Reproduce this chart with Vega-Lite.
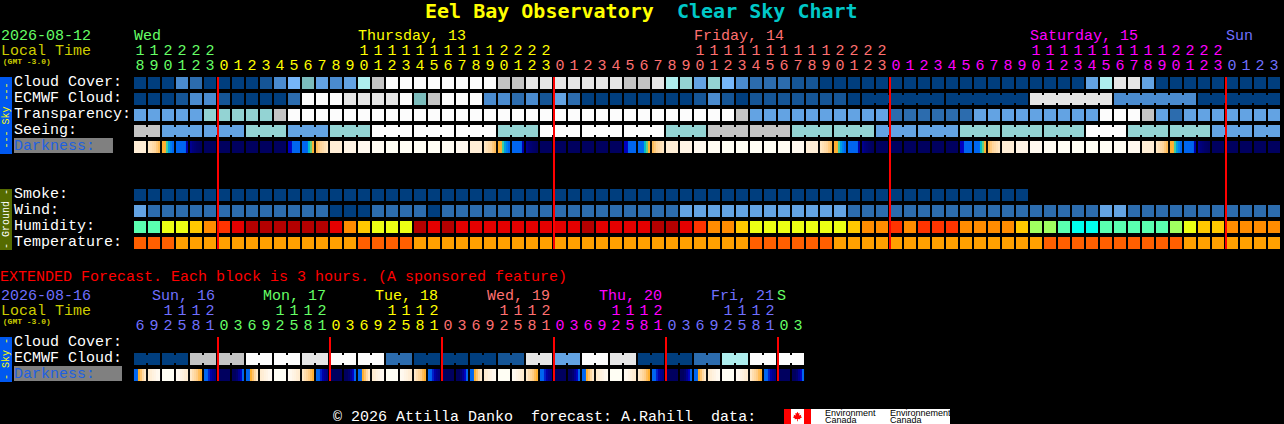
{"$schema":"https://vega.github.io/schema/vega-lite/v6.json","width":1284,"height":424,"padding":0,"autosize":{"type":"none"},"background":"#000000","config":{"view":{"stroke":null},"text":{"font":"Liberation Mono","fontSize":15,"align":"left","baseline":"middle"}},
"encoding":{"x":{"field":"c","type":"quantitative","scale":{"domain":[-10,81.7142857],"nice":false,"zero":false},"axis":null},"y":{"field":"r","type":"quantitative","scale":{"domain":[-5.1875,21.3125],"reverse":true,"nice":false,"zero":false},"axis":null},"color":{"field":"k","type":"nominal","legend":null,"scale":{"domain":["a","b","c","d","e","f","g","h","i","j","k","l","m","n","o","p","q","r","s","t","u","v","w","R","sky","gnd","grey","W","bk","12","13","14","15","16","17","18","19","20","21","22","L","T","C","D"],"range":["#003e7e","#155596","#2c6cae","#4a8bcf","#63a3e3","#76b6f9","#7cbcbc","#93d3d3","#aeeeee","#c4c4c4","#e6e6e6","#fcfcfc","#b40000","#e40000","#ff3400","#ff8c00","#ffc800","#ecff14","#a0ff60","#5affb0","#00ffee","#ff5f00","#ffa000","#ff0000","#0058f0","#556b00","#808080","#ffffff","#000000","#66ff66","#ffff00","#ff7070","#ff00ff","#7070ff","#66ff66","#ffff00","#ff7070","#ff00ff","#7070ff","#66ff66","#cccc00","#ffff00","#00c8c8","#2060e0"]}}},
"datasets":{"cells":[
{"r":0,"c":0,"k":"a"},{"r":0,"c":1,"k":"a"},{"r":0,"c":2,"k":"a"},{"r":0,"c":3,"k":"d"},{"r":0,"c":4,"k":"c"},{"r":0,"c":5,"k":"a"},{"r":0,"c":6,"k":"a"},{"r":0,"c":7,"k":"a"},{"r":0,"c":8,"k":"a"},{"r":0,"c":9,"k":"b"},{"r":0,"c":10,"k":"d"},{"r":0,"c":11,"k":"f"},{"r":0,"c":12,"k":"g"},{"r":0,"c":13,"k":"e"},{"r":0,"c":14,"k":"d"},{"r":0,"c":15,"k":"e"},{"r":0,"c":16,"k":"i"},{"r":0,"c":17,"k":"j"},{"r":0,"c":18,"k":"l"},{"r":0,"c":19,"k":"l"},{"r":0,"c":20,"k":"l"},{"r":0,"c":21,"k":"l"},{"r":0,"c":22,"k":"l"},{"r":0,"c":23,"k":"l"},{"r":0,"c":24,"k":"l"},{"r":0,"c":25,"k":"l"},{"r":0,"c":26,"k":"j"},{"r":0,"c":27,"k":"j"},{"r":0,"c":28,"k":"k"},{"r":0,"c":29,"k":"k"},{"r":0,"c":30,"k":"k"},{"r":0,"c":31,"k":"k"},{"r":0,"c":32,"k":"k"},{"r":0,"c":33,"k":"k"},{"r":0,"c":34,"k":"k"},{"r":0,"c":35,"k":"j"},{"r":0,"c":36,"k":"j"},{"r":0,"c":37,"k":"k"},{"r":0,"c":38,"k":"i"},{"r":0,"c":39,"k":"h"},{"r":0,"c":40,"k":"e"},{"r":0,"c":41,"k":"h"},{"r":0,"c":42,"k":"f"},{"r":0,"c":43,"k":"d"},{"r":0,"c":44,"k":"c"},{"r":0,"c":45,"k":"c"},{"r":0,"c":46,"k":"c"},{"r":0,"c":47,"k":"b"},{"r":0,"c":48,"k":"b"},{"r":0,"c":49,"k":"a"},{"r":0,"c":50,"k":"a"},{"r":0,"c":51,"k":"a"},{"r":0,"c":52,"k":"a"},{"r":0,"c":53,"k":"a"},{"r":0,"c":54,"k":"a"},{"r":0,"c":55,"k":"a"},{"r":0,"c":56,"k":"a"},{"r":0,"c":57,"k":"a"},{"r":0,"c":58,"k":"a"},{"r":0,"c":59,"k":"a"},{"r":0,"c":60,"k":"a"},{"r":0,"c":61,"k":"a"},{"r":0,"c":62,"k":"a"},{"r":0,"c":63,"k":"a"},{"r":0,"c":64,"k":"a"},{"r":0,"c":65,"k":"a"},{"r":0,"c":66,"k":"a"},{"r":0,"c":67,"k":"a"},{"r":0,"c":68,"k":"e"},{"r":0,"c":69,"k":"i"},{"r":0,"c":70,"k":"k"},{"r":0,"c":71,"k":"k"},{"r":0,"c":72,"k":"e"},{"r":0,"c":73,"k":"a"},{"r":0,"c":74,"k":"a"},{"r":0,"c":75,"k":"a"},{"r":0,"c":76,"k":"a"},{"r":0,"c":77,"k":"a"},{"r":0,"c":78,"k":"a"},{"r":0,"c":79,"k":"a"},{"r":0,"c":80,"k":"a"},{"r":0,"c":81,"k":"a"},
{"r":1,"c":0,"k":"a"},{"r":1,"c":1,"k":"a"},{"r":1,"c":2,"k":"a"},{"r":1,"c":3,"k":"b"},{"r":1,"c":4,"k":"d"},{"r":1,"c":5,"k":"d"},{"r":1,"c":6,"k":"b"},{"r":1,"c":7,"k":"a"},{"r":1,"c":8,"k":"a"},{"r":1,"c":9,"k":"a"},{"r":1,"c":10,"k":"a"},{"r":1,"c":11,"k":"c"},{"r":1,"c":12,"k":"l"},{"r":1,"c":13,"k":"l"},{"r":1,"c":14,"k":"l"},{"r":1,"c":15,"k":"k"},{"r":1,"c":16,"k":"k"},{"r":1,"c":17,"k":"k"},{"r":1,"c":18,"k":"k"},{"r":1,"c":19,"k":"l"},{"r":1,"c":20,"k":"g"},{"r":1,"c":21,"k":"j"},{"r":1,"c":22,"k":"l"},{"r":1,"c":23,"k":"l"},{"r":1,"c":24,"k":"l"},{"r":1,"c":25,"k":"d"},{"r":1,"c":26,"k":"d"},{"r":1,"c":27,"k":"c"},{"r":1,"c":28,"k":"d"},{"r":1,"c":29,"k":"b"},{"r":1,"c":30,"k":"e"},{"r":1,"c":31,"k":"c"},{"r":1,"c":32,"k":"a"},{"r":1,"c":33,"k":"a"},{"r":1,"c":34,"k":"a"},{"r":1,"c":35,"k":"a"},{"r":1,"c":36,"k":"a"},{"r":1,"c":37,"k":"a"},{"r":1,"c":38,"k":"a"},{"r":1,"c":39,"k":"a"},{"r":1,"c":40,"k":"b"},{"r":1,"c":41,"k":"d"},{"r":1,"c":42,"k":"b"},{"r":1,"c":43,"k":"a"},{"r":1,"c":44,"k":"b"},{"r":1,"c":45,"k":"b"},{"r":1,"c":46,"k":"b"},{"r":1,"c":47,"k":"b"},{"r":1,"c":48,"k":"b"},{"r":1,"c":49,"k":"b"},{"r":1,"c":50,"k":"b"},{"r":1,"c":51,"k":"a"},{"r":1,"c":52,"k":"a","j":1},{"r":1,"c":53,"k":"a","j":1},{"r":1,"c":54,"k":"a","j":1},{"r":1,"c":55,"k":"a","j":1},{"r":1,"c":56,"k":"a","j":1},{"r":1,"c":57,"k":"a"},{"r":1,"c":58,"k":"a","j":1},{"r":1,"c":59,"k":"a","j":1},{"r":1,"c":60,"k":"a","j":1},{"r":1,"c":61,"k":"a","j":1},{"r":1,"c":62,"k":"a","j":1},{"r":1,"c":63,"k":"a"},{"r":1,"c":64,"k":"k","j":1},{"r":1,"c":65,"k":"k","j":1},{"r":1,"c":66,"k":"k","j":1},{"r":1,"c":67,"k":"k","j":1},{"r":1,"c":68,"k":"k","j":1},{"r":1,"c":69,"k":"k"},{"r":1,"c":70,"k":"d","j":1},{"r":1,"c":71,"k":"d","j":1},{"r":1,"c":72,"k":"d","j":1},{"r":1,"c":73,"k":"d","j":1},{"r":1,"c":74,"k":"d","j":1},{"r":1,"c":75,"k":"d"},{"r":1,"c":76,"k":"a","j":1},{"r":1,"c":77,"k":"a","j":1},{"r":1,"c":78,"k":"a","j":1},{"r":1,"c":79,"k":"a","j":1},{"r":1,"c":80,"k":"a","j":1},{"r":1,"c":81,"k":"a"},
{"r":2,"c":0,"k":"e"},{"r":2,"c":1,"k":"e"},{"r":2,"c":2,"k":"e"},{"r":2,"c":3,"k":"e"},{"r":2,"c":4,"k":"e"},{"r":2,"c":5,"k":"h"},{"r":2,"c":6,"k":"h"},{"r":2,"c":7,"k":"h"},{"r":2,"c":8,"k":"h"},{"r":2,"c":9,"k":"h"},{"r":2,"c":10,"k":"j"},{"r":2,"c":11,"k":"l"},{"r":2,"c":12,"k":"l"},{"r":2,"c":13,"k":"l"},{"r":2,"c":14,"k":"l"},{"r":2,"c":15,"k":"l"},{"r":2,"c":16,"k":"l"},{"r":2,"c":17,"k":"l"},{"r":2,"c":18,"k":"l"},{"r":2,"c":19,"k":"l"},{"r":2,"c":20,"k":"l"},{"r":2,"c":21,"k":"l"},{"r":2,"c":22,"k":"l"},{"r":2,"c":23,"k":"l"},{"r":2,"c":24,"k":"l"},{"r":2,"c":25,"k":"l"},{"r":2,"c":26,"k":"l"},{"r":2,"c":27,"k":"l"},{"r":2,"c":28,"k":"l"},{"r":2,"c":29,"k":"l"},{"r":2,"c":30,"k":"l"},{"r":2,"c":31,"k":"l"},{"r":2,"c":32,"k":"l"},{"r":2,"c":33,"k":"l"},{"r":2,"c":34,"k":"l"},{"r":2,"c":35,"k":"l"},{"r":2,"c":36,"k":"l"},{"r":2,"c":37,"k":"l"},{"r":2,"c":38,"k":"l"},{"r":2,"c":39,"k":"l"},{"r":2,"c":40,"k":"l"},{"r":2,"c":41,"k":"l"},{"r":2,"c":42,"k":"l"},{"r":2,"c":43,"k":"j"},{"r":2,"c":44,"k":"e"},{"r":2,"c":45,"k":"e"},{"r":2,"c":46,"k":"e"},{"r":2,"c":47,"k":"e"},{"r":2,"c":48,"k":"e"},{"r":2,"c":49,"k":"e"},{"r":2,"c":50,"k":"e"},{"r":2,"c":51,"k":"e"},{"r":2,"c":52,"k":"e"},{"r":2,"c":53,"k":"e"},{"r":2,"c":54,"k":"c"},{"r":2,"c":55,"k":"c"},{"r":2,"c":56,"k":"c"},{"r":2,"c":57,"k":"c"},{"r":2,"c":58,"k":"c"},{"r":2,"c":59,"k":"c"},{"r":2,"c":60,"k":"e"},{"r":2,"c":61,"k":"e"},{"r":2,"c":62,"k":"e"},{"r":2,"c":63,"k":"e"},{"r":2,"c":64,"k":"e"},{"r":2,"c":65,"k":"e"},{"r":2,"c":66,"k":"e"},{"r":2,"c":67,"k":"e"},{"r":2,"c":68,"k":"e"},{"r":2,"c":69,"k":"l"},{"r":2,"c":70,"k":"l"},{"r":2,"c":71,"k":"l"},{"r":2,"c":72,"k":"j"},{"r":2,"c":73,"k":"e"},{"r":2,"c":74,"k":"c"},{"r":2,"c":75,"k":"e"},{"r":2,"c":76,"k":"e"},{"r":2,"c":77,"k":"e"},{"r":2,"c":78,"k":"e"},{"r":2,"c":79,"k":"e"},{"r":2,"c":80,"k":"e"},{"r":2,"c":81,"k":"e"},
{"r":3,"c":0,"k":"j","j":1},{"r":3,"c":1,"k":"j"},{"r":3,"c":2,"k":"e","j":1},{"r":3,"c":3,"k":"e","j":1},{"r":3,"c":4,"k":"e"},{"r":3,"c":5,"k":"e","j":1},{"r":3,"c":6,"k":"e","j":1},{"r":3,"c":7,"k":"e"},{"r":3,"c":8,"k":"h","j":1},{"r":3,"c":9,"k":"h","j":1},{"r":3,"c":10,"k":"h"},{"r":3,"c":11,"k":"e","j":1},{"r":3,"c":12,"k":"e","j":1},{"r":3,"c":13,"k":"e"},{"r":3,"c":14,"k":"h","j":1},{"r":3,"c":15,"k":"h","j":1},{"r":3,"c":16,"k":"h"},{"r":3,"c":17,"k":"l","j":1},{"r":3,"c":18,"k":"l","j":1},{"r":3,"c":19,"k":"l"},{"r":3,"c":20,"k":"l","j":1},{"r":3,"c":21,"k":"l","j":1},{"r":3,"c":22,"k":"l"},{"r":3,"c":23,"k":"l","j":1},{"r":3,"c":24,"k":"l","j":1},{"r":3,"c":25,"k":"l"},{"r":3,"c":26,"k":"h","j":1},{"r":3,"c":27,"k":"h","j":1},{"r":3,"c":28,"k":"h"},{"r":3,"c":29,"k":"l","j":1},{"r":3,"c":30,"k":"l","j":1},{"r":3,"c":31,"k":"l"},{"r":3,"c":32,"k":"l","j":1},{"r":3,"c":33,"k":"l","j":1},{"r":3,"c":34,"k":"l"},{"r":3,"c":35,"k":"l","j":1},{"r":3,"c":36,"k":"l","j":1},{"r":3,"c":37,"k":"l"},{"r":3,"c":38,"k":"h","j":1},{"r":3,"c":39,"k":"h","j":1},{"r":3,"c":40,"k":"h"},{"r":3,"c":41,"k":"j","j":1},{"r":3,"c":42,"k":"j","j":1},{"r":3,"c":43,"k":"j"},{"r":3,"c":44,"k":"j","j":1},{"r":3,"c":45,"k":"j","j":1},{"r":3,"c":46,"k":"j"},{"r":3,"c":47,"k":"h","j":1},{"r":3,"c":48,"k":"h","j":1},{"r":3,"c":49,"k":"h"},{"r":3,"c":50,"k":"h","j":1},{"r":3,"c":51,"k":"h","j":1},{"r":3,"c":52,"k":"h"},{"r":3,"c":53,"k":"e","j":1},{"r":3,"c":54,"k":"e","j":1},{"r":3,"c":55,"k":"e"},{"r":3,"c":56,"k":"e","j":1},{"r":3,"c":57,"k":"e","j":1},{"r":3,"c":58,"k":"e"},{"r":3,"c":59,"k":"h","j":1},{"r":3,"c":60,"k":"h","j":1},{"r":3,"c":61,"k":"h"},{"r":3,"c":62,"k":"h","j":1},{"r":3,"c":63,"k":"h","j":1},{"r":3,"c":64,"k":"h"},{"r":3,"c":65,"k":"h","j":1},{"r":3,"c":66,"k":"h","j":1},{"r":3,"c":67,"k":"h"},{"r":3,"c":68,"k":"l","j":1},{"r":3,"c":69,"k":"l","j":1},{"r":3,"c":70,"k":"l"},{"r":3,"c":71,"k":"h","j":1},{"r":3,"c":72,"k":"h","j":1},{"r":3,"c":73,"k":"h"},{"r":3,"c":74,"k":"h","j":1},{"r":3,"c":75,"k":"h","j":1},{"r":3,"c":76,"k":"h"},{"r":3,"c":77,"k":"e","j":1},{"r":3,"c":78,"k":"e","j":1},{"r":3,"c":79,"k":"e"},{"r":3,"c":80,"k":"e","j":1},{"r":3,"c":81,"k":"e"},
{"r":7,"c":0,"k":"a"},{"r":7,"c":1,"k":"a"},{"r":7,"c":2,"k":"a"},{"r":7,"c":3,"k":"a"},{"r":7,"c":4,"k":"a"},{"r":7,"c":5,"k":"a"},{"r":7,"c":6,"k":"a"},{"r":7,"c":7,"k":"a"},{"r":7,"c":8,"k":"a"},{"r":7,"c":9,"k":"a"},{"r":7,"c":10,"k":"a"},{"r":7,"c":11,"k":"a"},{"r":7,"c":12,"k":"a"},{"r":7,"c":13,"k":"a"},{"r":7,"c":14,"k":"a"},{"r":7,"c":15,"k":"a"},{"r":7,"c":16,"k":"a"},{"r":7,"c":17,"k":"a"},{"r":7,"c":18,"k":"a"},{"r":7,"c":19,"k":"a"},{"r":7,"c":20,"k":"a"},{"r":7,"c":21,"k":"a"},{"r":7,"c":22,"k":"a"},{"r":7,"c":23,"k":"a"},{"r":7,"c":24,"k":"a"},{"r":7,"c":25,"k":"a"},{"r":7,"c":26,"k":"a"},{"r":7,"c":27,"k":"a"},{"r":7,"c":28,"k":"a"},{"r":7,"c":29,"k":"a"},{"r":7,"c":30,"k":"a"},{"r":7,"c":31,"k":"a"},{"r":7,"c":32,"k":"a"},{"r":7,"c":33,"k":"a"},{"r":7,"c":34,"k":"a"},{"r":7,"c":35,"k":"a"},{"r":7,"c":36,"k":"a"},{"r":7,"c":37,"k":"a"},{"r":7,"c":38,"k":"a"},{"r":7,"c":39,"k":"a"},{"r":7,"c":40,"k":"a"},{"r":7,"c":41,"k":"a"},{"r":7,"c":42,"k":"a"},{"r":7,"c":43,"k":"a"},{"r":7,"c":44,"k":"a"},{"r":7,"c":45,"k":"a"},{"r":7,"c":46,"k":"a"},{"r":7,"c":47,"k":"a"},{"r":7,"c":48,"k":"a"},{"r":7,"c":49,"k":"a"},{"r":7,"c":50,"k":"a"},{"r":7,"c":51,"k":"a"},{"r":7,"c":52,"k":"a"},{"r":7,"c":53,"k":"a"},{"r":7,"c":54,"k":"a"},{"r":7,"c":55,"k":"a"},{"r":7,"c":56,"k":"a"},{"r":7,"c":57,"k":"a"},{"r":7,"c":58,"k":"a"},{"r":7,"c":59,"k":"a"},{"r":7,"c":60,"k":"a"},{"r":7,"c":61,"k":"a"},{"r":7,"c":62,"k":"a"},{"r":7,"c":63,"k":"a"},
{"r":8,"c":0,"k":"e"},{"r":8,"c":1,"k":"c"},{"r":8,"c":2,"k":"c"},{"r":8,"c":3,"k":"c"},{"r":8,"c":4,"k":"c"},{"r":8,"c":5,"k":"c"},{"r":8,"c":6,"k":"c"},{"r":8,"c":7,"k":"c"},{"r":8,"c":8,"k":"c"},{"r":8,"c":9,"k":"c"},{"r":8,"c":10,"k":"c"},{"r":8,"c":11,"k":"c"},{"r":8,"c":12,"k":"c"},{"r":8,"c":13,"k":"c"},{"r":8,"c":14,"k":"a"},{"r":8,"c":15,"k":"a"},{"r":8,"c":16,"k":"a"},{"r":8,"c":17,"k":"c"},{"r":8,"c":18,"k":"c"},{"r":8,"c":19,"k":"c"},{"r":8,"c":20,"k":"c"},{"r":8,"c":21,"k":"a"},{"r":8,"c":22,"k":"c"},{"r":8,"c":23,"k":"c"},{"r":8,"c":24,"k":"c"},{"r":8,"c":25,"k":"c"},{"r":8,"c":26,"k":"c"},{"r":8,"c":27,"k":"c"},{"r":8,"c":28,"k":"c"},{"r":8,"c":29,"k":"c"},{"r":8,"c":30,"k":"c"},{"r":8,"c":31,"k":"c"},{"r":8,"c":32,"k":"c"},{"r":8,"c":33,"k":"c"},{"r":8,"c":34,"k":"c"},{"r":8,"c":35,"k":"c"},{"r":8,"c":36,"k":"c"},{"r":8,"c":37,"k":"c"},{"r":8,"c":38,"k":"c"},{"r":8,"c":39,"k":"e"},{"r":8,"c":40,"k":"e"},{"r":8,"c":41,"k":"e"},{"r":8,"c":42,"k":"e"},{"r":8,"c":43,"k":"e"},{"r":8,"c":44,"k":"e"},{"r":8,"c":45,"k":"e"},{"r":8,"c":46,"k":"e"},{"r":8,"c":47,"k":"e"},{"r":8,"c":48,"k":"e"},{"r":8,"c":49,"k":"e"},{"r":8,"c":50,"k":"e"},{"r":8,"c":51,"k":"c"},{"r":8,"c":52,"k":"c"},{"r":8,"c":53,"k":"c"},{"r":8,"c":54,"k":"c"},{"r":8,"c":55,"k":"c"},{"r":8,"c":56,"k":"c"},{"r":8,"c":57,"k":"c"},{"r":8,"c":58,"k":"c"},{"r":8,"c":59,"k":"c"},{"r":8,"c":60,"k":"c"},{"r":8,"c":61,"k":"c"},{"r":8,"c":62,"k":"c"},{"r":8,"c":63,"k":"c"},{"r":8,"c":64,"k":"c"},{"r":8,"c":65,"k":"c"},{"r":8,"c":66,"k":"c"},{"r":8,"c":67,"k":"c"},{"r":8,"c":68,"k":"c"},{"r":8,"c":69,"k":"e"},{"r":8,"c":70,"k":"e"},{"r":8,"c":71,"k":"c"},{"r":8,"c":72,"k":"c"},{"r":8,"c":73,"k":"c"},{"r":8,"c":74,"k":"c"},{"r":8,"c":75,"k":"c"},{"r":8,"c":76,"k":"c"},{"r":8,"c":77,"k":"c"},{"r":8,"c":78,"k":"c"},{"r":8,"c":79,"k":"c"},{"r":8,"c":80,"k":"c"},{"r":8,"c":81,"k":"c"},
{"r":9,"c":0,"k":"t"},{"r":9,"c":1,"k":"t"},{"r":9,"c":2,"k":"r"},{"r":9,"c":3,"k":"r"},{"r":9,"c":4,"k":"q"},{"r":9,"c":5,"k":"p"},{"r":9,"c":6,"k":"o"},{"r":9,"c":7,"k":"n"},{"r":9,"c":8,"k":"m"},{"r":9,"c":9,"k":"m"},{"r":9,"c":10,"k":"m"},{"r":9,"c":11,"k":"m"},{"r":9,"c":12,"k":"m"},{"r":9,"c":13,"k":"m"},{"r":9,"c":14,"k":"n"},{"r":9,"c":15,"k":"p"},{"r":9,"c":16,"k":"q"},{"r":9,"c":17,"k":"r"},{"r":9,"c":18,"k":"r"},{"r":9,"c":19,"k":"r"},{"r":9,"c":20,"k":"m"},{"r":9,"c":21,"k":"n"},{"r":9,"c":22,"k":"m"},{"r":9,"c":23,"k":"n"},{"r":9,"c":24,"k":"n"},{"r":9,"c":25,"k":"n"},{"r":9,"c":26,"k":"n"},{"r":9,"c":27,"k":"n"},{"r":9,"c":28,"k":"n"},{"r":9,"c":29,"k":"n"},{"r":9,"c":30,"k":"n"},{"r":9,"c":31,"k":"n"},{"r":9,"c":32,"k":"m"},{"r":9,"c":33,"k":"n"},{"r":9,"c":34,"k":"n"},{"r":9,"c":35,"k":"n"},{"r":9,"c":36,"k":"n"},{"r":9,"c":37,"k":"m"},{"r":9,"c":38,"k":"m"},{"r":9,"c":39,"k":"n"},{"r":9,"c":40,"k":"o"},{"r":9,"c":41,"k":"p"},{"r":9,"c":42,"k":"p"},{"r":9,"c":43,"k":"q"},{"r":9,"c":44,"k":"r"},{"r":9,"c":45,"k":"r"},{"r":9,"c":46,"k":"r"},{"r":9,"c":47,"k":"r"},{"r":9,"c":48,"k":"r"},{"r":9,"c":49,"k":"r"},{"r":9,"c":50,"k":"r"},{"r":9,"c":51,"k":"q"},{"r":9,"c":52,"k":"p"},{"r":9,"c":53,"k":"p"},{"r":9,"c":54,"k":"o"},{"r":9,"c":55,"k":"p"},{"r":9,"c":56,"k":"o"},{"r":9,"c":57,"k":"o"},{"r":9,"c":58,"k":"o"},{"r":9,"c":59,"k":"p"},{"r":9,"c":60,"k":"p"},{"r":9,"c":61,"k":"p"},{"r":9,"c":62,"k":"p"},{"r":9,"c":63,"k":"q"},{"r":9,"c":64,"k":"s"},{"r":9,"c":65,"k":"s"},{"r":9,"c":66,"k":"t"},{"r":9,"c":67,"k":"u"},{"r":9,"c":68,"k":"u"},{"r":9,"c":69,"k":"t"},{"r":9,"c":70,"k":"t"},{"r":9,"c":71,"k":"t"},{"r":9,"c":72,"k":"t"},{"r":9,"c":73,"k":"t"},{"r":9,"c":74,"k":"s"},{"r":9,"c":75,"k":"r"},{"r":9,"c":76,"k":"q"},{"r":9,"c":77,"k":"q"},{"r":9,"c":78,"k":"p"},{"r":9,"c":79,"k":"p"},{"r":9,"c":80,"k":"p"},{"r":9,"c":81,"k":"p"},
{"r":10,"c":0,"k":"v"},{"r":10,"c":1,"k":"v"},{"r":10,"c":2,"k":"v"},{"r":10,"c":3,"k":"w"},{"r":10,"c":4,"k":"w"},{"r":10,"c":5,"k":"w"},{"r":10,"c":6,"k":"w"},{"r":10,"c":7,"k":"w"},{"r":10,"c":8,"k":"w"},{"r":10,"c":9,"k":"w"},{"r":10,"c":10,"k":"w"},{"r":10,"c":11,"k":"w"},{"r":10,"c":12,"k":"w"},{"r":10,"c":13,"k":"w"},{"r":10,"c":14,"k":"w"},{"r":10,"c":15,"k":"w"},{"r":10,"c":16,"k":"v"},{"r":10,"c":17,"k":"v"},{"r":10,"c":18,"k":"v"},{"r":10,"c":19,"k":"v"},{"r":10,"c":20,"k":"w"},{"r":10,"c":21,"k":"w"},{"r":10,"c":22,"k":"w"},{"r":10,"c":23,"k":"w"},{"r":10,"c":24,"k":"w"},{"r":10,"c":25,"k":"w"},{"r":10,"c":26,"k":"w"},{"r":10,"c":27,"k":"w"},{"r":10,"c":28,"k":"w"},{"r":10,"c":29,"k":"w"},{"r":10,"c":30,"k":"w"},{"r":10,"c":31,"k":"w"},{"r":10,"c":32,"k":"w"},{"r":10,"c":33,"k":"w"},{"r":10,"c":34,"k":"w"},{"r":10,"c":35,"k":"w"},{"r":10,"c":36,"k":"w"},{"r":10,"c":37,"k":"w"},{"r":10,"c":38,"k":"w"},{"r":10,"c":39,"k":"w"},{"r":10,"c":40,"k":"w"},{"r":10,"c":41,"k":"w"},{"r":10,"c":42,"k":"w"},{"r":10,"c":43,"k":"w"},{"r":10,"c":44,"k":"v"},{"r":10,"c":45,"k":"v"},{"r":10,"c":46,"k":"v"},{"r":10,"c":47,"k":"v"},{"r":10,"c":48,"k":"v"},{"r":10,"c":49,"k":"v"},{"r":10,"c":50,"k":"w"},{"r":10,"c":51,"k":"w"},{"r":10,"c":52,"k":"w"},{"r":10,"c":53,"k":"w"},{"r":10,"c":54,"k":"w"},{"r":10,"c":55,"k":"w"},{"r":10,"c":56,"k":"w"},{"r":10,"c":57,"k":"w"},{"r":10,"c":58,"k":"w"},{"r":10,"c":59,"k":"w"},{"r":10,"c":60,"k":"w"},{"r":10,"c":61,"k":"w"},{"r":10,"c":62,"k":"w"},{"r":10,"c":63,"k":"w"},{"r":10,"c":64,"k":"w"},{"r":10,"c":65,"k":"v"},{"r":10,"c":66,"k":"v"},{"r":10,"c":67,"k":"v"},{"r":10,"c":68,"k":"v"},{"r":10,"c":69,"k":"v"},{"r":10,"c":70,"k":"v"},{"r":10,"c":71,"k":"v"},{"r":10,"c":72,"k":"v"},{"r":10,"c":73,"k":"v"},{"r":10,"c":74,"k":"v"},{"r":10,"c":75,"k":"w"},{"r":10,"c":76,"k":"w"},{"r":10,"c":77,"k":"w"},{"r":10,"c":78,"k":"w"},{"r":10,"c":79,"k":"w"},{"r":10,"c":80,"k":"w"},{"r":10,"c":81,"k":"w"},
{"r":17.25,"c":0,"k":"a","j":1},{"r":17.25,"c":1,"k":"a"},{"r":17.25,"c":2,"k":"a","j":1},{"r":17.25,"c":3,"k":"a"},{"r":17.25,"c":4,"k":"j","j":1},{"r":17.25,"c":5,"k":"j"},{"r":17.25,"c":6,"k":"j","j":1},{"r":17.25,"c":7,"k":"j"},{"r":17.25,"c":8,"k":"l","j":1},{"r":17.25,"c":9,"k":"l"},{"r":17.25,"c":10,"k":"l","j":1},{"r":17.25,"c":11,"k":"l"},{"r":17.25,"c":12,"k":"k","j":1},{"r":17.25,"c":13,"k":"k"},{"r":17.25,"c":14,"k":"l","j":1},{"r":17.25,"c":15,"k":"l"},{"r":17.25,"c":16,"k":"l","j":1},{"r":17.25,"c":17,"k":"l"},{"r":17.25,"c":18,"k":"c","j":1},{"r":17.25,"c":19,"k":"c"},{"r":17.25,"c":20,"k":"a","j":1},{"r":17.25,"c":21,"k":"a"},{"r":17.25,"c":22,"k":"a","j":1},{"r":17.25,"c":23,"k":"a"},{"r":17.25,"c":24,"k":"a","j":1},{"r":17.25,"c":25,"k":"a"},{"r":17.25,"c":26,"k":"b","j":1},{"r":17.25,"c":27,"k":"b"},{"r":17.25,"c":28,"k":"k","j":1},{"r":17.25,"c":29,"k":"k"},{"r":17.25,"c":30,"k":"e","j":1},{"r":17.25,"c":31,"k":"e"},{"r":17.25,"c":32,"k":"l","j":1},{"r":17.25,"c":33,"k":"l"},{"r":17.25,"c":34,"k":"k","j":1},{"r":17.25,"c":35,"k":"k"},{"r":17.25,"c":36,"k":"a","j":1},{"r":17.25,"c":37,"k":"a"},{"r":17.25,"c":38,"k":"a","j":1},{"r":17.25,"c":39,"k":"a"},{"r":17.25,"c":40,"k":"c","j":1},{"r":17.25,"c":41,"k":"c"},{"r":17.25,"c":42,"k":"i","j":1},{"r":17.25,"c":43,"k":"i"},{"r":17.25,"c":44,"k":"l","j":1},{"r":17.25,"c":45,"k":"l"},{"r":17.25,"c":46,"k":"l","j":1},{"r":17.25,"c":47,"k":"l"}
],
"darkFull":[
{"r":4,"c":0,"d":8.2},{"r":4,"c":5,"d":0},{"r":4,"c":6,"d":0},{"r":4,"c":7,"d":0},{"r":4,"c":8,"d":0},{"r":4,"c":9,"d":0},{"r":4,"c":10,"d":0},{"r":4,"c":14,"d":8.2},{"r":4,"c":15,"d":8.7},{"r":4,"c":16,"d":9.2},{"r":4,"c":17,"d":9.6},{"r":4,"c":18,"d":10},{"r":4,"c":19,"d":10},{"r":4,"c":20,"d":10},{"r":4,"c":21,"d":10},{"r":4,"c":22,"d":9.6},{"r":4,"c":23,"d":9.2},{"r":4,"c":24,"d":8.2},{"r":4,"c":29,"d":0},{"r":4,"c":30,"d":0},{"r":4,"c":31,"d":0},{"r":4,"c":32,"d":0},{"r":4,"c":33,"d":0},{"r":4,"c":34,"d":0},{"r":4,"c":38,"d":8.2},{"r":4,"c":39,"d":8.7},{"r":4,"c":40,"d":9.2},{"r":4,"c":41,"d":9.6},{"r":4,"c":42,"d":10},{"r":4,"c":43,"d":10},{"r":4,"c":44,"d":10},{"r":4,"c":45,"d":10},{"r":4,"c":46,"d":9.6},{"r":4,"c":47,"d":9.2},{"r":4,"c":48,"d":8.2},{"r":4,"c":53,"d":0},{"r":4,"c":54,"d":0},{"r":4,"c":55,"d":0},{"r":4,"c":56,"d":0},{"r":4,"c":57,"d":0},{"r":4,"c":58,"d":0},{"r":4,"c":62,"d":8.2},{"r":4,"c":63,"d":8.7},{"r":4,"c":64,"d":9.2},{"r":4,"c":65,"d":9.6},{"r":4,"c":66,"d":10},{"r":4,"c":67,"d":10},{"r":4,"c":68,"d":10},{"r":4,"c":69,"d":10},{"r":4,"c":70,"d":9.6},{"r":4,"c":71,"d":9.2},{"r":4,"c":72,"d":8.2},{"r":4,"c":77,"d":0},{"r":4,"c":78,"d":0},{"r":4,"c":79,"d":0},{"r":4,"c":80,"d":0},{"r":4,"c":81,"d":0},
{"r":18.25,"c":2,"d":10},{"r":18.25,"c":6,"d":0},{"r":18.25,"c":10,"d":10},{"r":18.25,"c":14,"d":0},{"r":18.25,"c":18,"d":10},{"r":18.25,"c":22,"d":0},{"r":18.25,"c":26,"d":10},{"r":18.25,"c":30,"d":0},{"r":18.25,"c":34,"d":10},{"r":18.25,"c":38,"d":0},{"r":18.25,"c":42,"d":10},{"r":18.25,"c":46,"d":0}
],
"darkTop":[
{"c":0.643,"d":7.8},{"c":0.786,"d":7.6},{"c":0.929,"d":7.4},{"c":1.071,"d":7.2},{"c":1.214,"d":6.8},{"c":1.357,"d":6.4},{"c":1.643,"d":6},{"c":1.786,"d":6},{"c":1.929,"d":5},{"c":2.071,"d":4},{"c":2.214,"d":3.4},{"c":2.357,"d":3},{"c":2.643,"d":3},{"c":2.786,"d":3},{"c":2.929,"d":3},{"c":3.071,"d":3},{"c":3.214,"d":3},{"c":3.357,"d":1.5},{"c":3.643,"d":1},{"c":3.786,"d":0.6},{"c":3.929,"d":0.4},{"c":4.071,"d":0.2},{"c":4.214,"d":0.1},{"c":4.357,"d":0},
{"c":10.643,"d":2},{"c":10.786,"d":2},{"c":10.929,"d":3},{"c":11.071,"d":3},{"c":11.214,"d":3},{"c":11.357,"d":3},{"c":11.643,"d":3},{"c":11.786,"d":3},{"c":11.929,"d":3},{"c":12.071,"d":4.5},{"c":12.214,"d":5.2},{"c":12.357,"d":6},{"c":12.643,"d":6.4},{"c":12.786,"d":6.8},{"c":12.929,"d":7.2},{"c":13.071,"d":7.4},{"c":13.214,"d":7.6},{"c":13.357,"d":7.8},
{"c":24.643,"d":7.8},{"c":24.786,"d":7.6},{"c":24.929,"d":7.4},{"c":25.071,"d":7.2},{"c":25.214,"d":6.8},{"c":25.357,"d":6.4},{"c":25.643,"d":6},{"c":25.786,"d":6},{"c":25.929,"d":5},{"c":26.071,"d":4},{"c":26.214,"d":3.4},{"c":26.357,"d":3},{"c":26.643,"d":3},{"c":26.786,"d":3},{"c":26.929,"d":3},{"c":27.071,"d":3},{"c":27.214,"d":3},{"c":27.357,"d":1.5},{"c":27.643,"d":1},{"c":27.786,"d":0.6},{"c":27.929,"d":0.4},{"c":28.071,"d":0.2},{"c":28.214,"d":0.1},{"c":28.357,"d":0},
{"c":34.643,"d":2},{"c":34.786,"d":2},{"c":34.929,"d":3},{"c":35.071,"d":3},{"c":35.214,"d":3},{"c":35.357,"d":3},{"c":35.643,"d":3},{"c":35.786,"d":3},{"c":35.929,"d":3},{"c":36.071,"d":4.5},{"c":36.214,"d":5.2},{"c":36.357,"d":6},{"c":36.643,"d":6.4},{"c":36.786,"d":6.8},{"c":36.929,"d":7.2},{"c":37.071,"d":7.4},{"c":37.214,"d":7.6},{"c":37.357,"d":7.8},
{"c":48.643,"d":7.8},{"c":48.786,"d":7.6},{"c":48.929,"d":7.4},{"c":49.071,"d":7.2},{"c":49.214,"d":6.8},{"c":49.357,"d":6.4},{"c":49.643,"d":6},{"c":49.786,"d":6},{"c":49.929,"d":5},{"c":50.071,"d":4},{"c":50.214,"d":3.4},{"c":50.357,"d":3},{"c":50.643,"d":3},{"c":50.786,"d":3},{"c":50.929,"d":3},{"c":51.071,"d":3},{"c":51.214,"d":3},{"c":51.357,"d":1.5},{"c":51.643,"d":1},{"c":51.786,"d":0.6},{"c":51.929,"d":0.4},{"c":52.071,"d":0.2},{"c":52.214,"d":0.1},{"c":52.357,"d":0},
{"c":58.643,"d":2},{"c":58.786,"d":2},{"c":58.929,"d":3},{"c":59.071,"d":3},{"c":59.214,"d":3},{"c":59.357,"d":3},{"c":59.643,"d":3},{"c":59.786,"d":3},{"c":59.929,"d":3},{"c":60.071,"d":4.5},{"c":60.214,"d":5.2},{"c":60.357,"d":6},{"c":60.643,"d":6.4},{"c":60.786,"d":6.8},{"c":60.929,"d":7.2},{"c":61.071,"d":7.4},{"c":61.214,"d":7.6},{"c":61.357,"d":7.8},
{"c":72.643,"d":7.8},{"c":72.786,"d":7.6},{"c":72.929,"d":7.4},{"c":73.071,"d":7.2},{"c":73.214,"d":6.8},{"c":73.357,"d":6.4},{"c":73.643,"d":6},{"c":73.786,"d":6},{"c":73.929,"d":5},{"c":74.071,"d":4},{"c":74.214,"d":3.4},{"c":74.357,"d":3},{"c":74.643,"d":3},{"c":74.786,"d":3},{"c":74.929,"d":3},{"c":75.071,"d":3},{"c":75.214,"d":3},{"c":75.357,"d":1.5},{"c":75.643,"d":1},{"c":75.786,"d":0.6},{"c":75.929,"d":0.4},{"c":76.071,"d":0.2},{"c":76.214,"d":0.1},{"c":76.357,"d":0}
],
"darkExt":[
{"c":-0.357,"d":3},{"c":-0.214,"d":3},{"c":-0.071,"d":6},{"c":0.071,"d":6.6},{"c":0.214,"d":7.3},{"c":0.357,"d":7.9},{"c":0.643,"d":8},{"c":0.786,"d":8.2},{"c":0.929,"d":8.5},{"c":1.071,"d":8.7},{"c":1.214,"d":9},{"c":1.357,"d":9.3},{"c":2.643,"d":9.3},{"c":2.786,"d":9},{"c":2.929,"d":8.7},{"c":3.071,"d":8.5},{"c":3.214,"d":8.2},{"c":3.357,"d":8},{"c":3.643,"d":7.9},{"c":3.786,"d":7.5},{"c":3.929,"d":7.2},{"c":4.071,"d":6.9},{"c":4.214,"d":6.4},{"c":4.357,"d":6},{"c":4.643,"d":3},{"c":4.786,"d":3},{"c":4.929,"d":2.2},{"c":5.071,"d":1.5},{"c":5.214,"d":1},{"c":5.357,"d":0.7},{"c":6.643,"d":0},{"c":6.786,"d":0},{"c":6.929,"d":0.3},{"c":7.071,"d":1},{"c":7.214,"d":2},{"c":7.357,"d":3},
{"c":7.643,"d":3},{"c":7.786,"d":3},{"c":7.929,"d":6},{"c":8.071,"d":6.6},{"c":8.214,"d":7.3},{"c":8.357,"d":7.9},{"c":8.643,"d":8},{"c":8.786,"d":8.2},{"c":8.929,"d":8.5},{"c":9.071,"d":8.7},{"c":9.214,"d":9},{"c":9.357,"d":9.3},{"c":10.643,"d":9.3},{"c":10.786,"d":9},{"c":10.929,"d":8.7},{"c":11.071,"d":8.5},{"c":11.214,"d":8.2},{"c":11.357,"d":8},{"c":11.643,"d":7.9},{"c":11.786,"d":7.5},{"c":11.929,"d":7.2},{"c":12.071,"d":6.9},{"c":12.214,"d":6.4},{"c":12.357,"d":6},{"c":12.643,"d":3},{"c":12.786,"d":3},{"c":12.929,"d":2.2},{"c":13.071,"d":1.5},{"c":13.214,"d":1},{"c":13.357,"d":0.7},{"c":14.643,"d":0},{"c":14.786,"d":0},{"c":14.929,"d":0.3},{"c":15.071,"d":1},{"c":15.214,"d":2},{"c":15.357,"d":3},
{"c":15.643,"d":3},{"c":15.786,"d":3},{"c":15.929,"d":6},{"c":16.071,"d":6.6},{"c":16.214,"d":7.3},{"c":16.357,"d":7.9},{"c":16.643,"d":8},{"c":16.786,"d":8.2},{"c":16.929,"d":8.5},{"c":17.071,"d":8.7},{"c":17.214,"d":9},{"c":17.357,"d":9.3},{"c":18.643,"d":9.3},{"c":18.786,"d":9},{"c":18.929,"d":8.7},{"c":19.071,"d":8.5},{"c":19.214,"d":8.2},{"c":19.357,"d":8},{"c":19.643,"d":7.9},{"c":19.786,"d":7.5},{"c":19.929,"d":7.2},{"c":20.071,"d":6.9},{"c":20.214,"d":6.4},{"c":20.357,"d":6},{"c":20.643,"d":3},{"c":20.786,"d":3},{"c":20.929,"d":2.2},{"c":21.071,"d":1.5},{"c":21.214,"d":1},{"c":21.357,"d":0.7},{"c":22.643,"d":0},{"c":22.786,"d":0},{"c":22.929,"d":0.3},{"c":23.071,"d":1},{"c":23.214,"d":2},{"c":23.357,"d":3},
{"c":23.643,"d":3},{"c":23.786,"d":3},{"c":23.929,"d":6},{"c":24.071,"d":6.6},{"c":24.214,"d":7.3},{"c":24.357,"d":7.9},{"c":24.643,"d":8},{"c":24.786,"d":8.2},{"c":24.929,"d":8.5},{"c":25.071,"d":8.7},{"c":25.214,"d":9},{"c":25.357,"d":9.3},{"c":26.643,"d":9.3},{"c":26.786,"d":9},{"c":26.929,"d":8.7},{"c":27.071,"d":8.5},{"c":27.214,"d":8.2},{"c":27.357,"d":8},{"c":27.643,"d":7.9},{"c":27.786,"d":7.5},{"c":27.929,"d":7.2},{"c":28.071,"d":6.9},{"c":28.214,"d":6.4},{"c":28.357,"d":6},{"c":28.643,"d":3},{"c":28.786,"d":3},{"c":28.929,"d":2.2},{"c":29.071,"d":1.5},{"c":29.214,"d":1},{"c":29.357,"d":0.7},{"c":30.643,"d":0},{"c":30.786,"d":0},{"c":30.929,"d":0.3},{"c":31.071,"d":1},{"c":31.214,"d":2},{"c":31.357,"d":3},
{"c":31.643,"d":3},{"c":31.786,"d":3},{"c":31.929,"d":6},{"c":32.071,"d":6.6},{"c":32.214,"d":7.3},{"c":32.357,"d":7.9},{"c":32.643,"d":8},{"c":32.786,"d":8.2},{"c":32.929,"d":8.5},{"c":33.071,"d":8.7},{"c":33.214,"d":9},{"c":33.357,"d":9.3},{"c":34.643,"d":9.3},{"c":34.786,"d":9},{"c":34.929,"d":8.7},{"c":35.071,"d":8.5},{"c":35.214,"d":8.2},{"c":35.357,"d":8},{"c":35.643,"d":7.9},{"c":35.786,"d":7.5},{"c":35.929,"d":7.2},{"c":36.071,"d":6.9},{"c":36.214,"d":6.4},{"c":36.357,"d":6},{"c":36.643,"d":3},{"c":36.786,"d":3},{"c":36.929,"d":2.2},{"c":37.071,"d":1.5},{"c":37.214,"d":1},{"c":37.357,"d":0.7},{"c":38.643,"d":0},{"c":38.786,"d":0},{"c":38.929,"d":0.3},{"c":39.071,"d":1},{"c":39.214,"d":2},{"c":39.357,"d":3},
{"c":39.643,"d":3},{"c":39.786,"d":3},{"c":39.929,"d":6},{"c":40.071,"d":6.6},{"c":40.214,"d":7.3},{"c":40.357,"d":7.9},{"c":40.643,"d":8},{"c":40.786,"d":8.2},{"c":40.929,"d":8.5},{"c":41.071,"d":8.7},{"c":41.214,"d":9},{"c":41.357,"d":9.3},{"c":42.643,"d":9.3},{"c":42.786,"d":9},{"c":42.929,"d":8.7},{"c":43.071,"d":8.5},{"c":43.214,"d":8.2},{"c":43.357,"d":8},{"c":43.643,"d":7.9},{"c":43.786,"d":7.5},{"c":43.929,"d":7.2},{"c":44.071,"d":6.9},{"c":44.214,"d":6.4},{"c":44.357,"d":6},{"c":44.643,"d":3},{"c":44.786,"d":3},{"c":44.929,"d":2.2},{"c":45.071,"d":1.5},{"c":45.214,"d":1},{"c":45.357,"d":0.7},{"c":46.643,"d":0},{"c":46.786,"d":0},{"c":46.929,"d":0.3},{"c":47.071,"d":1},{"c":47.214,"d":2},{"c":47.357,"d":3}
],
"hoursTop":[{"c":0,"h":18,"k":"12"},{"c":1,"h":19,"k":"12"},{"c":2,"h":20,"k":"12"},{"c":3,"h":21,"k":"12"},{"c":4,"h":22,"k":"12"},{"c":5,"h":23,"k":"12"},{"c":6,"h":0,"k":"13"},{"c":7,"h":1,"k":"13"},{"c":8,"h":2,"k":"13"},{"c":9,"h":3,"k":"13"},{"c":10,"h":4,"k":"13"},{"c":11,"h":5,"k":"13"},{"c":12,"h":6,"k":"13"},{"c":13,"h":7,"k":"13"},{"c":14,"h":8,"k":"13"},{"c":15,"h":9,"k":"13"},{"c":16,"h":10,"k":"13"},{"c":17,"h":11,"k":"13"},{"c":18,"h":12,"k":"13"},{"c":19,"h":13,"k":"13"},{"c":20,"h":14,"k":"13"},{"c":21,"h":15,"k":"13"},{"c":22,"h":16,"k":"13"},{"c":23,"h":17,"k":"13"},{"c":24,"h":18,"k":"13"},{"c":25,"h":19,"k":"13"},{"c":26,"h":20,"k":"13"},{"c":27,"h":21,"k":"13"},{"c":28,"h":22,"k":"13"},{"c":29,"h":23,"k":"13"},{"c":30,"h":0,"k":"14"},{"c":31,"h":1,"k":"14"},{"c":32,"h":2,"k":"14"},{"c":33,"h":3,"k":"14"},{"c":34,"h":4,"k":"14"},{"c":35,"h":5,"k":"14"},{"c":36,"h":6,"k":"14"},{"c":37,"h":7,"k":"14"},{"c":38,"h":8,"k":"14"},{"c":39,"h":9,"k":"14"},{"c":40,"h":10,"k":"14"},{"c":41,"h":11,"k":"14"},{"c":42,"h":12,"k":"14"},{"c":43,"h":13,"k":"14"},{"c":44,"h":14,"k":"14"},{"c":45,"h":15,"k":"14"},{"c":46,"h":16,"k":"14"},{"c":47,"h":17,"k":"14"},{"c":48,"h":18,"k":"14"},{"c":49,"h":19,"k":"14"},{"c":50,"h":20,"k":"14"},{"c":51,"h":21,"k":"14"},{"c":52,"h":22,"k":"14"},{"c":53,"h":23,"k":"14"},{"c":54,"h":0,"k":"15"},{"c":55,"h":1,"k":"15"},{"c":56,"h":2,"k":"15"},{"c":57,"h":3,"k":"15"},{"c":58,"h":4,"k":"15"},{"c":59,"h":5,"k":"15"},{"c":60,"h":6,"k":"15"},{"c":61,"h":7,"k":"15"},{"c":62,"h":8,"k":"15"},{"c":63,"h":9,"k":"15"},{"c":64,"h":10,"k":"15"},{"c":65,"h":11,"k":"15"},{"c":66,"h":12,"k":"15"},{"c":67,"h":13,"k":"15"},{"c":68,"h":14,"k":"15"},{"c":69,"h":15,"k":"15"},{"c":70,"h":16,"k":"15"},{"c":71,"h":17,"k":"15"},{"c":72,"h":18,"k":"15"},{"c":73,"h":19,"k":"15"},{"c":74,"h":20,"k":"15"},{"c":75,"h":21,"k":"15"},{"c":76,"h":22,"k":"15"},{"c":77,"h":23,"k":"15"},{"c":78,"h":0,"k":"16"},{"c":79,"h":1,"k":"16"},{"c":80,"h":2,"k":"16"},{"c":81,"h":3,"k":"16"}],
"hoursExt":[{"c":0,"h":6,"k":"16"},{"c":1,"h":9,"k":"16"},{"c":2,"h":12,"k":"16"},{"c":3,"h":15,"k":"16"},{"c":4,"h":18,"k":"16"},{"c":5,"h":21,"k":"16"},{"c":6,"h":0,"k":"17"},{"c":7,"h":3,"k":"17"},{"c":8,"h":6,"k":"17"},{"c":9,"h":9,"k":"17"},{"c":10,"h":12,"k":"17"},{"c":11,"h":15,"k":"17"},{"c":12,"h":18,"k":"17"},{"c":13,"h":21,"k":"17"},{"c":14,"h":0,"k":"18"},{"c":15,"h":3,"k":"18"},{"c":16,"h":6,"k":"18"},{"c":17,"h":9,"k":"18"},{"c":18,"h":12,"k":"18"},{"c":19,"h":15,"k":"18"},{"c":20,"h":18,"k":"18"},{"c":21,"h":21,"k":"18"},{"c":22,"h":0,"k":"19"},{"c":23,"h":3,"k":"19"},{"c":24,"h":6,"k":"19"},{"c":25,"h":9,"k":"19"},{"c":26,"h":12,"k":"19"},{"c":27,"h":15,"k":"19"},{"c":28,"h":18,"k":"19"},{"c":29,"h":21,"k":"19"},{"c":30,"h":0,"k":"20"},{"c":31,"h":3,"k":"20"},{"c":32,"h":6,"k":"20"},{"c":33,"h":9,"k":"20"},{"c":34,"h":12,"k":"20"},{"c":35,"h":15,"k":"20"},{"c":36,"h":18,"k":"20"},{"c":37,"h":21,"k":"20"},{"c":38,"h":0,"k":"21"},{"c":39,"h":3,"k":"21"},{"c":40,"h":6,"k":"21"},{"c":41,"h":9,"k":"21"},{"c":42,"h":12,"k":"21"},{"c":43,"h":15,"k":"21"},{"c":44,"h":18,"k":"21"},{"c":45,"h":21,"k":"21"},{"c":46,"h":0,"k":"22"},{"c":47,"h":3,"k":"22"}]
},
"layer":[
{"data":{"name":"cells"},"mark":{"type":"rect","width":12,"height":12}},
{"data":{"name":"cells"},"transform":[{"filter":"datum.j"}],"mark":{"type":"rect","width":4,"height":8,"xOffset":7}},
{"data":{"name":"darkFull"},"mark":{"type":"rect","width":12,"height":12},"encoding":{"fill":{"field":"d","type":"quantitative","legend":null,"scale":{"domain":[0,1,2,3,4,5,6,7,8,9,10],"range":["#00005f","#000090","#0000c0","#0066f0","#00a0e0","#40d0a0","#ffb030","#ffd090","#ffecd0","#fff8ee","#ffffff"]}}}},
{"data":{"name":"darkTop"},"transform":[{"calculate":"4","as":"r"}],"mark":{"type":"rect","width":2.1,"height":12},"encoding":{"fill":{"field":"d","type":"quantitative","legend":null}}},
{"data":{"name":"darkExt"},"transform":[{"calculate":"18.25","as":"r"}],"mark":{"type":"rect","width":2.1,"height":12},"encoding":{"fill":{"field":"d","type":"quantitative","legend":null}}},
{"data":{"values":[{"c":-10,"c2":-9.143,"r":-0.375,"r2":4.4375,"k":"sky"},{"c":-10,"c2":-9.143,"r":6.625,"r2":10.4375,"k":"gnd"},{"c":-10,"c2":-9.143,"r":15.875,"r2":18.6875,"k":"sky"},{"c":-9,"c2":-1.93,"r":3.4375,"r2":4.375,"k":"grey"},{"c":-9,"c2":-1.286,"r":17.6875,"r2":18.625,"k":"grey"},{"c":46,"c2":57.857,"r":20.375,"r2":21.3125,"k":"W"},{"c":46,"c2":46.5,"r":20.375,"r2":21.3125,"k":"R"},{"c":47.43,"c2":47.93,"r":20.375,"r2":21.3125,"k":"R"}]},"mark":{"type":"rect"},"encoding":{"x2":{"field":"c2"},"y2":{"field":"r2"}}},
{"data":{"values":[{"c":46.96,"r":20.84,"k":"R"}]},"mark":{"type":"point","filled":true,"opacity":1,"size":90,"shape":"M0,-1 L0.2,-0.6 L0.45,-0.7 L0.35,-0.2 L0.8,-0.35 L0.7,-0.05 L1,0.15 L0.55,0.4 L0.6,0.6 L0.08,0.55 L0.08,1 L-0.08,1 L-0.08,0.55 L-0.6,0.6 L-0.55,0.4 L-1,0.15 L-0.7,-0.05 L-0.8,-0.35 L-0.35,-0.2 L-0.45,-0.7 L-0.2,-0.6 Z"}},
{"data":{"values":[{"c":5.571,"r":-0.375,"r2":10.375,"k":"R"},{"c":29.571,"r":-0.375,"r2":10.375,"k":"R"},{"c":53.571,"r":-0.375,"r2":10.375,"k":"R"},{"c":77.571,"r":-0.375,"r2":10.375,"k":"R"},{"c":5.571,"r":15.875,"r2":18.625,"k":"R"},{"c":13.571,"r":15.875,"r2":18.625,"k":"R"},{"c":21.571,"r":15.875,"r2":18.625,"k":"R"},{"c":29.571,"r":15.875,"r2":18.625,"k":"R"},{"c":37.571,"r":15.875,"r2":18.625,"k":"R"},{"c":45.571,"r":15.875,"r2":18.625,"k":"R"}]},"mark":{"type":"rule","strokeWidth":2},"encoding":{"y2":{"field":"r2"}}},
{"data":{"values":[{"t":"Eel Bay Observatory","c":20.357,"r":-4.44,"k":"T"},{"t":"Clear Sky Chart","c":38.357,"r":-4.44,"k":"C"}]},"mark":{"type":"text","font":"DejaVu Sans Mono","fontSize":20,"fontWeight":"bold"},"encoding":{"text":{"field":"t"}}},
{"data":{"values":[{"t":"2026-08-12","c":-9.93,"r":-3,"k":"12"},{"t":"Local Time","c":-9.93,"r":-2.06,"k":"L"},{"t":"Wed","c":-0.43,"r":-3,"k":"12"},{"t":"Thursday, 13","c":15.57,"r":-3,"k":"13"},{"t":"Friday, 14","c":39.57,"r":-3,"k":"14"},{"t":"Saturday, 15","c":63.57,"r":-3,"k":"15"},{"t":"Sun","c":77.57,"r":-3,"k":"16"},{"t":"Cloud Cover:","c":-9,"r":-0.125,"k":"W"},{"t":"ECMWF Cloud:","c":-9,"r":0.875,"k":"W"},{"t":"Transparency:","c":-9,"r":1.875,"k":"W"},{"t":"Seeing:","c":-9,"r":2.875,"k":"W"},{"t":"Darkness:","c":-9,"r":3.875,"k":"D"},{"t":"Smoke:","c":-9,"r":6.875,"k":"W"},{"t":"Wind:","c":-9,"r":7.875,"k":"W"},{"t":"Humidity:","c":-9,"r":8.875,"k":"W"},{"t":"Temperature:","c":-9,"r":9.875,"k":"W"},{"t":"EXTENDED Forecast. Each block is 3 hours. (A sponsored feature)","c":-10,"r":12.06,"k":"R"},{"t":"2026-08-16","c":-9.93,"r":13.25,"k":"16"},{"t":"Local Time","c":-9.93,"r":14.19,"k":"L"},{"t":"Sun, 16","c":0.857,"r":13.25,"k":"16"},{"t":"Mon, 17","c":8.786,"r":13.25,"k":"17"},{"t":"Tue, 18","c":16.786,"r":13.25,"k":"18"},{"t":"Wed, 19","c":24.786,"r":13.25,"k":"19"},{"t":"Thu, 20","c":32.786,"r":13.25,"k":"20"},{"t":"Fri, 21","c":40.786,"r":13.25,"k":"21"},{"t":"S","c":45.5,"r":13.25,"k":"22"},{"t":"Cloud Cover:","c":-9,"r":16.125,"k":"W"},{"t":"ECMWF Cloud:","c":-9,"r":17.125,"k":"W"},{"t":"Darkness:","c":-9,"r":18.125,"k":"D"},{"t":"© 2026 Attilla Danko\u00a0\u00a0forecast: A.Rahill\u00a0\u00a0data:","c":13.79,"r":20.81,"k":"W"}]},"mark":{"type":"text"},"encoding":{"text":{"field":"t"}}},
{"data":{"values":[{"t":"(GMT -3.0)","c":-9.8,"r":-1.31,"k":"L"},{"t":"(GMT -3.0)","c":-9.8,"r":14.94,"k":"L"}]},"mark":{"type":"text","fontSize":8,"fontWeight":"bold"},"encoding":{"text":{"field":"t"}}},
{"data":{"values":[{"t":"--- Sky ---","c":-9.57,"r":2.03,"k":"T"},{"t":"- Ground -","c":-9.57,"r":8.5,"k":"W"},{"t":"- Sky -","c":-9.57,"r":17.25,"k":"T"}]},"mark":{"type":"text","fontSize":10,"angle":270,"align":"center"},"encoding":{"text":{"field":"t"}}},
{"data":{"values":[{"t":"Environment","c":48.93,"r":20.6,"k":"bk"},{"t":"Canada","c":48.93,"r":21.08,"k":"bk"},{"t":"Environnement","c":53.57,"r":20.6,"k":"bk"},{"t":"Canada","c":53.57,"r":21.08,"k":"bk"}]},"mark":{"type":"text","font":"Liberation Sans","fontSize":9},"encoding":{"text":{"field":"t"}}},
{"data":{"name":"hoursTop"},"transform":[{"calculate":"datum.h%10","as":"u"},{"calculate":"-1.12","as":"r"}],"mark":{"type":"text","align":"center"},"encoding":{"text":{"field":"u","type":"nominal"}}},
{"data":{"name":"hoursTop"},"transform":[{"filter":"datum.h>=10"},{"calculate":"floor(datum.h/10)","as":"u"},{"calculate":"-2.06","as":"r"}],"mark":{"type":"text","align":"center"},"encoding":{"text":{"field":"u","type":"nominal"}}},
{"data":{"name":"hoursExt"},"transform":[{"calculate":"datum.h%10","as":"u"},{"calculate":"15.125","as":"r"}],"mark":{"type":"text","align":"center"},"encoding":{"text":{"field":"u","type":"nominal"}}},
{"data":{"name":"hoursExt"},"transform":[{"filter":"datum.h>=10"},{"calculate":"floor(datum.h/10)","as":"u"},{"calculate":"14.19","as":"r"}],"mark":{"type":"text","align":"center"},"encoding":{"text":{"field":"u","type":"nominal"}}}
]}
